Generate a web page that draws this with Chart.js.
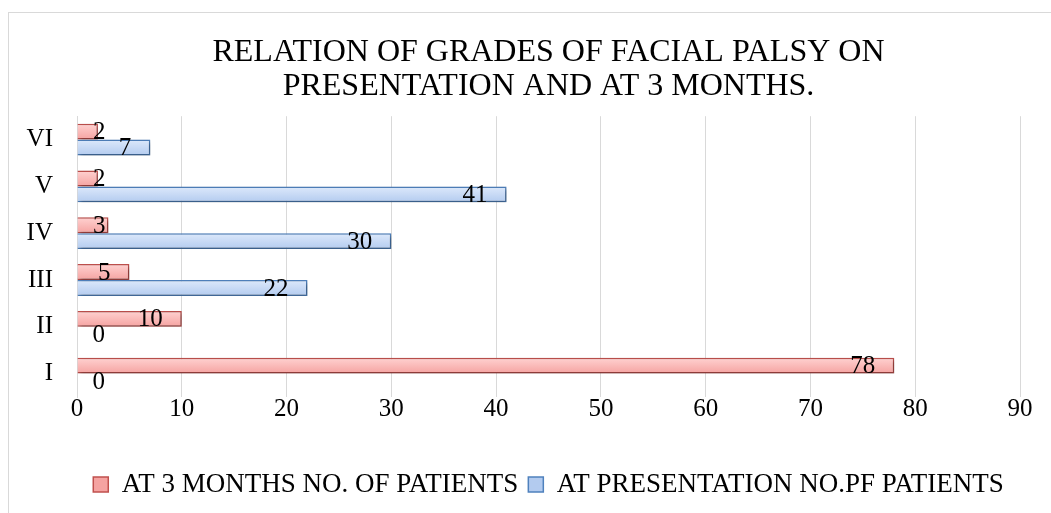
<!DOCTYPE html>
<html lang="en">
<head>
<meta charset="utf-8">
<title>Facial palsy grades</title>
<script src="https://cdn.jsdelivr.net/npm/chart.js@4/dist/chart.umd.min.js"></script>
<style>
  html, body { margin: 0; padding: 0; background: #fff; overflow: hidden; }
  #wrap { position: absolute; left: 8px; top: 12px; width: 1043px; height: 501px;
          box-sizing: border-box; border-left: 1px solid #d9d9d9; border-top: 1px solid #d9d9d9; }
</style>
</head>
<body>
<div id="wrap"><canvas id="chart"></canvas></div>
<script>
// grades, listed top to bottom as in the picture
const grades = ['VI', 'V', 'IV', 'III', 'II', 'I'];
const atThreeMonths = [2, 2, 3, 5, 10, 78];
const atPresentation = [7, 41, 30, 22, 0, 0];
const xTicks = [0, 10, 20, 30, 40, 50, 60, 70, 80, 90];

const serif = '"Liberation Serif", "Times New Roman", serif';

// vertical gradient per bar, light on top
function barFill(top, bottom, fallback) {
  return (ctx) => {
    const chart = ctx.chart;
    const y = chart.scales.y;
    if (!chart.chartArea || !y || ctx.dataIndex === undefined) return fallback;
    const band = (y.bottom - y.top) / grades.length * 0.68 / 2;
    const mid = y.getPixelForValue(ctx.dataIndex) + (ctx.datasetIndex === 0 ? -band / 2 : band / 2);
    const g = chart.ctx.createLinearGradient(0, mid - band / 2, 0, mid + band / 2);
    g.addColorStop(0, top);
    g.addColorStop(1, bottom);
    return g;
  };
}

// soft drop shadow under the bars
const shadow = {
  id: 'shadow',
  beforeDatasetsDraw(chart) {
    const c = chart.ctx;
    c.save();
    c.shadowColor = 'rgba(0,0,0,0.35)';
    c.shadowBlur = 4;
    c.shadowOffsetX = 2;
    c.shadowOffsetY = 2;
  },
  afterDatasetsDraw(chart) {
    chart.ctx.restore();
  }
};

// value labels at the inside end of each bar
const valueLabels = {
  id: 'valueLabels',
  afterDraw(chart) {
    const c = chart.ctx;
    c.save();
    c.font = '25px ' + serif;
    c.fillStyle = '#000';
    c.textAlign = 'right';
    c.textBaseline = 'middle';
    chart.data.datasets.forEach((ds, i) => {
      chart.getDatasetMeta(i).data.forEach((bar, j) => {
        const right = Math.max(bar.x - 19, bar.base + 28);
        c.fillText(String(ds.data[j]), right, bar.y + 1);
      });
    });
    c.restore();
  }
};

new Chart(document.getElementById('chart'), {
  type: 'bar',
  data: {
    labels: grades,
    datasets: [
      {
        label: 'AT 3 MONTHS NO. OF PATIENTS',
        data: atThreeMonths,
        backgroundColor: barFill('#ffd2d1', '#f5a3a1', '#f9b8b7'),
        borderColor: '#c0504d',
        borderWidth: 1.5
      },
      {
        label: 'AT PRESENTATION NO.PF PATIENTS',
        data: atPresentation,
        backgroundColor: barFill('#dde9fb', '#b3cbef', '#c6d9f4'),
        borderColor: '#4f81bd',
        borderWidth: 1.5
      }
    ]
  },
  options: {
    indexAxis: 'y',
    responsive: true,
    maintainAspectRatio: false,
    animation: false,
    categoryPercentage: 0.68,
    barPercentage: 1,
    layout: { padding: { left: 0, right: 31, top: 0, bottom: 5 } },
    scales: {
      x: {
        min: 0,
        max: 90,
        afterBuildTicks(scale) { scale.ticks = xTicks.map(v => ({ value: v })); },
        afterFit(scale) { scale.height = 64; },
        grid: { color: '#d9d9d9', lineWidth: 1, drawTicks: false },
        border: { display: false },
        ticks: { color: '#000', font: { family: serif, size: 25, lineHeight: 1 }, padding: 0 }
      },
      y: {
        grid: { display: false, drawTicks: false },
        border: { display: true, color: '#d9d9d9' },
        ticks: { color: '#000', font: { family: serif, size: 25 }, padding: 24 },
        afterFit(scale) { scale.width = 68; }
      }
    },
    plugins: {
      title: {
        display: true,
        fullSize: false,
        text: ['RELATION OF GRADES OF FACIAL PALSY ON', 'PRESENTATION AND AT 3 MONTHS.'],
        color: '#000',
        font: { family: serif, size: 32, weight: 'normal', lineHeight: 1.05 },
        padding: { top: 23, bottom: 13 }
      },
      legend: {
        position: 'bottom',
        fullSize: false,
        labels: {
          color: '#000',
          font: { family: serif, size: 27 },
          boxWidth: 15,
          boxHeight: 15,
          padding: 10
        }
      },
      tooltip: { enabled: false }
    }
  },
  plugins: [shadow, valueLabels]
});
</script>
</body>
</html>
